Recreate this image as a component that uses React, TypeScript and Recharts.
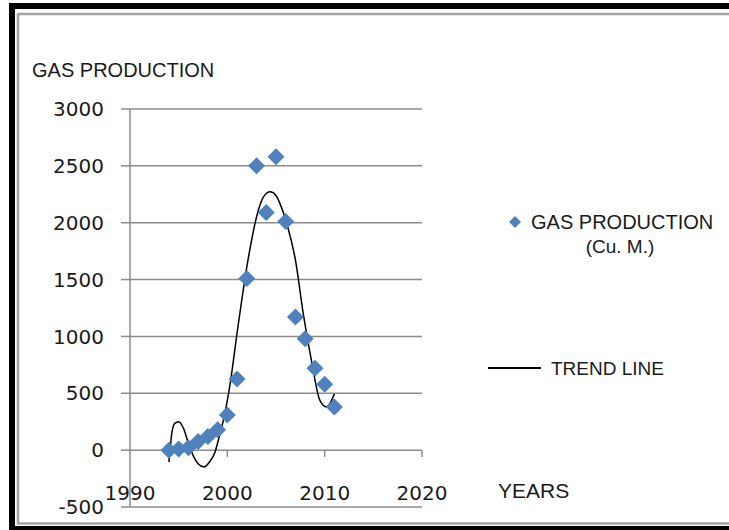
import { ComposedChart, Scatter, Line, XAxis, YAxis, CartesianGrid, ReferenceLine } from "recharts"

// measured gas production per year
const years = [1994, 1995, 1996, 1997, 1998, 1999, 2000, 2001, 2002, 2003, 2004, 2005, 2006, 2007, 2008, 2009, 2010, 2011]
const gasProduction = [0, 10, 20, 75, 120, 180, 310, 625, 1510, 2500, 2090, 2580, 2010, 1170, 980, 720, 580, 380]

// trend line
const trendYears = [1994, 1994.3, 1994.6, 1995, 1995.5, 1996, 1996.5, 1997, 1997.6, 1998.2, 1998.7, 1999.2, 1999.6, 2000.3, 2001, 2001.5, 2002, 2002.5, 2003, 2003.7, 2004.4, 2005, 2005.4, 2006.1, 2007, 2007.8, 2008.7, 2009.5, 2010.2, 2011]
const trendValues = [-105, 150, 235, 250, 190, 60, -50, -120, -148, -100, -25, 130, 265, 590, 1030, 1330, 1610, 1850, 2050, 2225, 2272, 2240, 2170, 1995, 1670, 1200, 760, 440, 380, 495]

const xTicks = [1990, 2000, 2010, 2020]
const yTicks = [-500, 0, 500, 1000, 1500, 2000, 2500, 3000]
const zeroLineMarks = [2000, 2010, 2020]

const scatterData = years.map((year, i) => ({ year, value: gasProduction[i] }))
const trendData = trendYears.map((year, i) => ({ year, trend: trendValues[i] }))

const grey = "#8c8c8c"
const blue = "#4F81BD"
const textColor = "#1a1a1a"
const sans = "'Liberation Sans', Arial, sans-serif"
const tickFont = "'DejaVu Sans', Verdana, sans-serif"

const Diamond = (props: any) => {
  const { cx, cy } = props
  const r = 8.5
  return <polygon points={`${cx},${cy - r} ${cx + r},${cy} ${cx},${cy + r} ${cx - r},${cy}`} fill={blue} />
}

const XTick = (props: any) => {
  const { x, y, payload } = props
  return (
    <text x={x} y={y - 7} textAnchor="middle" fontSize={20} fontFamily={tickFont} fill={textColor}>
      {payload.value}
    </text>
  )
}

export default function App() {
  return (
    <div style={{ position: "absolute", left: 0, top: 0, width: 729, height: 530, background: "#fff", overflow: "hidden" }}>
      <svg width={729} height={530} style={{ position: "absolute", left: 0, top: 0 }}>
        <rect x={12} y={6} width={800} height={523} fill="none" stroke="#000" strokeWidth={6} />
        <rect x={18} y={14} width={800} height={509.5} fill="none" stroke="#a5a5a5" strokeWidth={2.5} />
        <text x={32} y={77} fontSize={20} fontFamily={sans} fill={textColor}>GAS PRODUCTION</text>
        <text x={498} y={498} fontSize={21} fontFamily={sans} fill={textColor}>YEARS</text>
        <polygon points="515,216 521,222 515,228 509,222" fill={blue} />
        <text x={531} y={229} fontSize={20} fontFamily={sans} fill={textColor}>GAS PRODUCTION</text>
        <text x={620} y={253} fontSize={19} fontFamily={sans} fill={textColor} textAnchor="middle">(Cu. M.)</text>
        <line x1={488} y1={368} x2={541} y2={368} stroke="#000" strokeWidth={2} />
        <text x={551} y={375} fontSize={19} fontFamily={sans} fill={textColor}>TREND LINE</text>
      </svg>
      <div style={{ position: "absolute", left: 0, top: 0 }}>
        <ComposedChart width={729} height={530} margin={{ top: 109, right: 307, bottom: 0, left: 0 }}>
          <CartesianGrid vertical={false} stroke={grey} strokeWidth={1.5} />
          <XAxis
            type="number"
            dataKey="year"
            domain={[1990, 2020]}
            ticks={xTicks}
            height={23}
            axisLine={false}
            tickLine={false}
            tickSize={0}
            tickMargin={0}
            tick={<XTick />}
            interval={0}
          />
          <YAxis
            type="number"
            domain={[-500, 3000]}
            ticks={yTicks}
            width={130}
            interval={0}
            axisLine={{ stroke: grey, strokeWidth: 1.5 }}
            tickLine={{ stroke: grey, strokeWidth: 1.5 }}
            tickSize={9}
            tickMargin={17}
            tick={{ fontSize: 20, fontFamily: tickFont, fill: textColor }}
          />
          {zeroLineMarks.map((yr) => (
            <ReferenceLine
              key={yr}
              segment={[{ x: yr, y: 0 }, { x: yr, y: -60 }]}
              stroke={grey}
              strokeWidth={1.5}
            />
          ))}
          <Line
            data={trendData}
            dataKey="trend"
            type="monotone"
            stroke="#000"
            strokeWidth={1.5}
            dot={false}
            activeDot={false}
            isAnimationActive={false}
          />
          <Scatter data={scatterData} dataKey="value" shape={<Diamond />} isAnimationActive={false} />
        </ComposedChart>
      </div>
    </div>
  )
}
